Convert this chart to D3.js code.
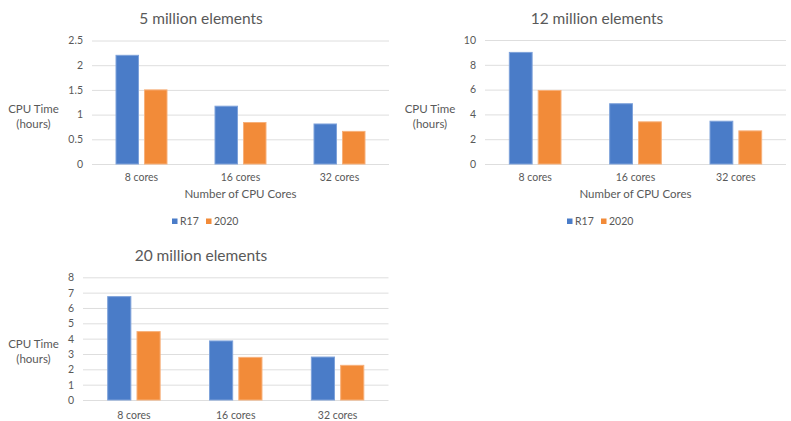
<!DOCTYPE html>
<html>
<head>
<meta charset="utf-8">
<script src="https://cdn.jsdelivr.net/npm/d3@7/dist/d3.min.js"></script>
<style>
  html, body { margin: 0; padding: 0; background: #fff; }
  svg { display: block; }
  text { font-family: Lato, "Open Sans", sans-serif; fill: #595959; }
</style>
</head>
<body>
<svg id="chart" width="791" height="421"></svg>
<script>
// Core counts on the x axis and the two solver versions
const categories = ["8 cores", "16 cores", "32 cores"];
const seriesNames = ["R17", "2020"];

// CPU time in hours, per mesh size
const r17_5M   = [2.2, 1.17, 0.81];
const v2020_5M = [1.5, 0.84, 0.66];
const r17_12M   = [9.0, 4.86, 3.45];
const v2020_12M = [5.93, 3.4, 2.67];
const r17_20M   = [6.74, 3.85, 2.8];
const v2020_20M = [4.46, 2.78, 2.26];

// Y-axis tick values per panel
const ticks5M  = [0, 0.5, 1, 1.5, 2, 2.5];
const ticks12M = [0, 2, 4, 6, 8, 10];
const ticks20M = [0, 1, 2, 3, 4, 5, 6, 7, 8];

const titles = ["5 million elements", "12 million elements", "20 million elements"];

const colors = { "R17": "#4a7cc8", "2020": "#f28b39" };
const edges  = { "R17": "#7ea2da", "2020": "#f7b07a" };

const panels = [
  { title: titles[0], values: [r17_5M, v2020_5M], ticks: ticks5M,
    x0: 92, x1: 389, y0: 164, y1: 40.5, titleX: 201, titleY: 24,
    yTitleX: 33.5, yTitleY: 113, xLabelY: 181, xTitle: true, legend: true },
  { title: titles[1], values: [r17_12M, v2020_12M], ticks: ticks12M,
    x0: 485, x1: 786, y0: 164, y1: 40, titleX: 597, titleY: 24,
    yTitleX: 430, yTitleY: 113, xLabelY: 181, xTitle: true, legend: true },
  { title: titles[2], values: [r17_20M, v2020_20M], ticks: ticks20M,
    x0: 83, x1: 388.5, y0: 400, y1: 277.3, titleX: 201, titleY: 260.5,
    yTitleX: 33.5, yTitleY: 348, xLabelY: 419, xTitle: false, legend: false }
];

const svg = d3.select("#chart");

panels.forEach(p => {
  const g = svg.append("g");
  const tmax = p.ticks[p.ticks.length - 1];

  const y = d3.scaleLinear().domain([0, tmax]).range([p.y0, p.y1]);
  const x = d3.scaleBand().domain(categories).range([p.x0, p.x1]).padding(0);
  const groupW = x.bandwidth() * 0.515;
  const xs = d3.scaleBand().domain(seriesNames).range([0, groupW]).paddingInner(0.21);

  // gridlines and tick labels
  const yAxis = d3.axisLeft(y).tickValues(p.ticks)
    .tickSize(-(p.x1 - p.x0)).tickPadding(9).tickFormat(d3.format("~g"));
  const ga = g.append("g").attr("transform", `translate(${p.x0},0)`).call(yAxis);
  ga.select(".domain").remove();
  ga.selectAll(".tick line").attr("stroke", "#dedede").attr("stroke-width", 1);
  ga.selectAll(".tick text").style("font-size", "10.5px").attr("fill", "#595959");

  // bars
  const rows = [];
  categories.forEach((c, i) => seriesNames.forEach((s, j) => rows.push({ c, s, v: p.values[j][i] })));
  g.selectAll("rect.bar").data(rows).join("rect")
    .attr("class", "bar")
    .attr("x", d => x(d.c) + (x.bandwidth() - groupW) / 2 + xs(d.s))
    .attr("width", xs.bandwidth())
    .attr("y", d => y(d.v))
    .attr("height", d => y(0) - y(d.v))
    .attr("fill", d => colors[d.s])
    .attr("stroke", d => edges[d.s])
    .attr("stroke-width", 1);

  // category labels
  g.selectAll("text.cat").data(categories).join("text")
    .attr("class", "cat")
    .attr("x", d => x(d) + x.bandwidth() / 2)
    .attr("y", p.xLabelY)
    .attr("text-anchor", "middle")
    .style("font-size", "10.5px")
    .text(d => d);

  // panel title
  g.append("text")
    .attr("x", p.titleX).attr("y", p.titleY)
    .attr("text-anchor", "middle")
    .style("font-size", "15.5px")
    .text(p.title);

  // y-axis title, two lines
  const yt = g.append("text")
    .attr("x", p.yTitleX).attr("y", p.yTitleY)
    .attr("text-anchor", "middle")
    .style("font-size", "11.5px");
  yt.append("tspan").attr("x", p.yTitleX).text("CPU Time");
  yt.append("tspan").attr("x", p.yTitleX).attr("dy", 14.5).text("(hours)");

  if (p.xTitle) {
    g.append("text")
      .attr("x", (p.x0 + p.x1) / 2).attr("y", 198)
      .attr("text-anchor", "middle")
      .style("font-size", "11.5px")
      .text("Number of CPU Cores");
  }

  if (p.legend) {
    const cx = (p.x0 + p.x1) / 2;
    const lg = g.append("g").attr("transform", `translate(${cx - 68.5},0)`);
    const items = lg.selectAll("g").data(seriesNames).join("g")
      .attr("transform", (d, i) => `translate(${i * 34},0)`);
    items.append("rect").attr("x", 0).attr("y", 218.5).attr("width", 5.5).attr("height", 5.5)
      .attr("fill", d => colors[d]);
    items.append("text").attr("x", 8).attr("y", 225)
      .style("font-size", "10.5px").text(d => d);
  }
});
</script>
</body>
</html>
